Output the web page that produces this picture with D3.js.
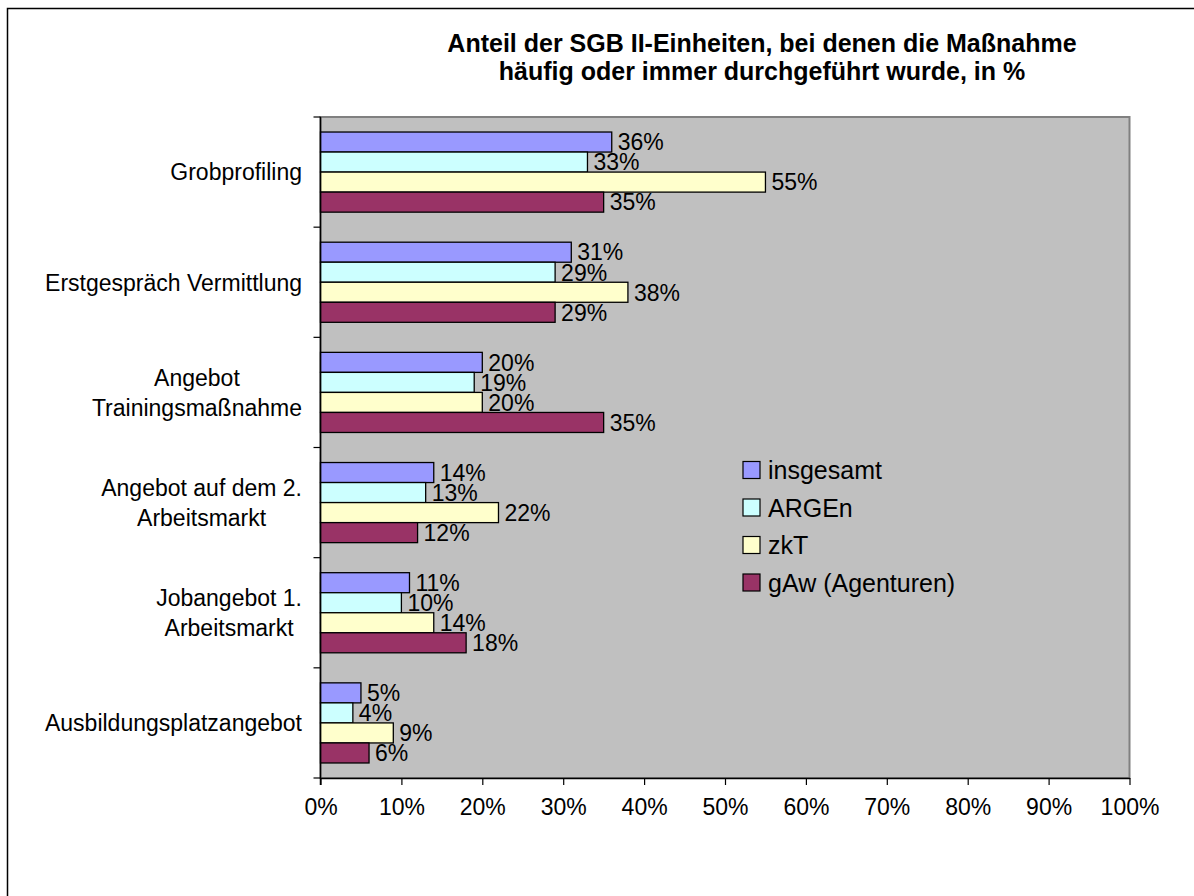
<!DOCTYPE html>
<html>
<head>
<meta charset="utf-8">
<script src="https://cdn.jsdelivr.net/npm/d3@7"></script>
<style>
  body { margin: 0; background: #fff; }
  text { font-family: "Liberation Sans", Arial, sans-serif; fill: #000; }
</style>
</head>
<body>
<script>
// Data
var categories = [
  "Grobprofiling",
  "Erstgespräch Vermittlung",
  "Angebot Trainingsmaßnahme",
  "Angebot auf dem 2. Arbeitsmarkt",
  "Jobangebot 1. Arbeitsmarkt",
  "Ausbildungsplatzangebot"
];
var categoryLines = [
  ["Grobprofiling"],
  ["Erstgespräch Vermittlung"],
  ["Angebot", "Trainingsmaßnahme"],
  ["Angebot auf dem 2.", "Arbeitsmarkt"],
  ["Jobangebot 1.", "Arbeitsmarkt"],
  ["Ausbildungsplatzangebot"]
];
var seriesNames = ["insgesamt", "ARGEn", "zkT", "gAw (Agenturen)"];
var insgesamt = [36, 31, 20, 14, 11, 5];
var argen = [33, 29, 19, 13, 10, 4];
var zkt = [55, 38, 20, 22, 14, 9];
var gaw = [35, 29, 35, 12, 18, 6];
var xTicks = [0, 10, 20, 30, 40, 50, 60, 70, 80, 90, 100];
var titleLines = [
  "Anteil der SGB II-Einheiten, bei denen die Maßnahme",
  "häufig oder immer durchgeführt wurde, in %"
];

var seriesValues = [insgesamt, argen, zkt, gaw];
var colors = ["#9999FF", "#CCFFFF", "#FFFFCC", "#993366"];

// Layout
var W = 1194, H = 896;
var plot = { left: 320.5, top: 117, right: 1129.5, bottom: 778 };

var svg = d3.select("body").append("svg")
  .attr("width", W)
  .attr("height", H);

// Outer chart border (right/bottom edges fall outside the picture)
svg.append("rect")
  .attr("x", 7.5).attr("y", 8.5)
  .attr("width", 1400).attr("height", 1100)
  .attr("fill", "#fff")
  .attr("stroke", "#000")
  .attr("stroke-width", 1.5);

// Title
svg.append("g").selectAll("text")
  .data(titleLines)
  .enter().append("text")
  .attr("x", 762)
  .attr("y", function(d, i) { return 52 + i * 28; })
  .attr("text-anchor", "middle")
  .attr("font-size", "25px")
  .attr("font-weight", "bold")
  .text(function(d) { return d; });

// Scales
var x = d3.scaleLinear().domain([0, 100]).range([plot.left, plot.right]);
var y0 = d3.scaleBand().domain(categories).range([plot.top, plot.bottom]);
var y1 = d3.scaleBand().domain(d3.range(seriesNames.length))
  .range([0, y0.bandwidth()])
  .paddingInner(0)
  .paddingOuter(0.75);

// Plot area
svg.append("rect")
  .attr("x", plot.left).attr("y", plot.top)
  .attr("width", plot.right - plot.left)
  .attr("height", plot.bottom - plot.top)
  .attr("fill", "#C0C0C0")
  .attr("stroke", "#808080")
  .attr("stroke-width", 2);

// Bars
var groups = svg.append("g").selectAll("g")
  .data(categories)
  .enter().append("g")
  .attr("transform", function(d) { return "translate(0," + y0(d) + ")"; });

groups.each(function(cat, ci) {
  var g = d3.select(this);
  var rows = seriesValues.map(function(vals, si) { return { s: si, v: vals[ci] }; });
  g.selectAll("rect")
    .data(rows)
    .enter().append("rect")
    .attr("x", x(0))
    .attr("y", function(d) { return y1(d.s); })
    .attr("width", function(d) { return x(d.v) - x(0); })
    .attr("height", y1.bandwidth())
    .attr("fill", function(d) { return colors[d.s]; })
    .attr("stroke", "#000")
    .attr("stroke-width", 1.3);
  g.selectAll("text")
    .data(rows)
    .enter().append("text")
    .attr("x", function(d) { return x(d.v) + 6; })
    .attr("y", function(d) { return y1(d.s) + y1.bandwidth() / 2; })
    .attr("dy", "0.36em")
    .attr("font-size", "23px")
    .text(function(d) { return d.v + "%"; });
});

// Y axis (category boundaries as ticks)
var yAxisG = svg.append("g");
yAxisG.append("line")
  .attr("x1", plot.left).attr("x2", plot.left)
  .attr("y1", plot.top).attr("y2", plot.bottom + 7)
  .attr("stroke", "#000").attr("stroke-width", 1.5);
var bounds = categories.map(function(c) { return y0(c); }).concat([plot.bottom]);
yAxisG.selectAll(".ytick")
  .data(bounds)
  .enter().append("line")
  .attr("x1", plot.left - 7).attr("x2", plot.left)
  .attr("y1", function(d) { return d; })
  .attr("y2", function(d) { return d; })
  .attr("stroke", "#000").attr("stroke-width", 1.2);

// Category labels: lines centered to each other, block right-aligned
var labelRight = 302;
categories.forEach(function(c, ci) {
  var lines = categoryLines[ci];
  var cy = y0(c) + y0.bandwidth() / 2;
  var lh = 30;
  var g = svg.append("g");
  var texts = g.selectAll("text")
    .data(lines)
    .enter().append("text")
    .attr("font-size", "23px")
    .attr("text-anchor", "middle")
    .attr("y", function(d, i) { return cy + (i - (lines.length - 1) / 2) * lh; })
    .attr("dy", "0.36em")
    .text(function(d) { return d; });
  var maxW = 0;
  texts.each(function() { maxW = Math.max(maxW, this.getComputedTextLength()); });
  texts.attr("x", labelRight - maxW / 2);
});

// X axis
var xAxis = d3.axisBottom(x)
  .tickValues(xTicks)
  .tickSizeInner(7)
  .tickSizeOuter(0)
  .tickPadding(14)
  .tickFormat(function(d) { return d + "%"; });

var xAxisG = svg.append("g")
  .attr("transform", "translate(0," + plot.bottom + ")")
  .call(xAxis);
xAxisG.select(".domain").attr("stroke", "#000").attr("stroke-width", 1.5);
xAxisG.selectAll(".tick line").attr("stroke", "#000").attr("stroke-width", 1.2);
xAxisG.selectAll(".tick text")
  .attr("font-size", "23px")
  .attr("font-family", "Liberation Sans, Arial, sans-serif")
  .attr("fill", "#000");

// Legend
var legend = svg.append("g").selectAll("g")
  .data(seriesNames)
  .enter().append("g")
  .attr("transform", function(d, i) { return "translate(743," + (470 + i * 37.5) + ")"; });
legend.append("rect")
  .attr("x", 0).attr("y", -8.5)
  .attr("width", 17).attr("height", 17)
  .attr("fill", function(d, i) { return colors[i]; })
  .attr("stroke", "#000")
  .attr("stroke-width", 1.2);
legend.append("text")
  .attr("x", 25)
  .attr("dy", "0.36em")
  .attr("font-size", "25px")
  .text(function(d) { return d; });
</script>
</body>
</html>
